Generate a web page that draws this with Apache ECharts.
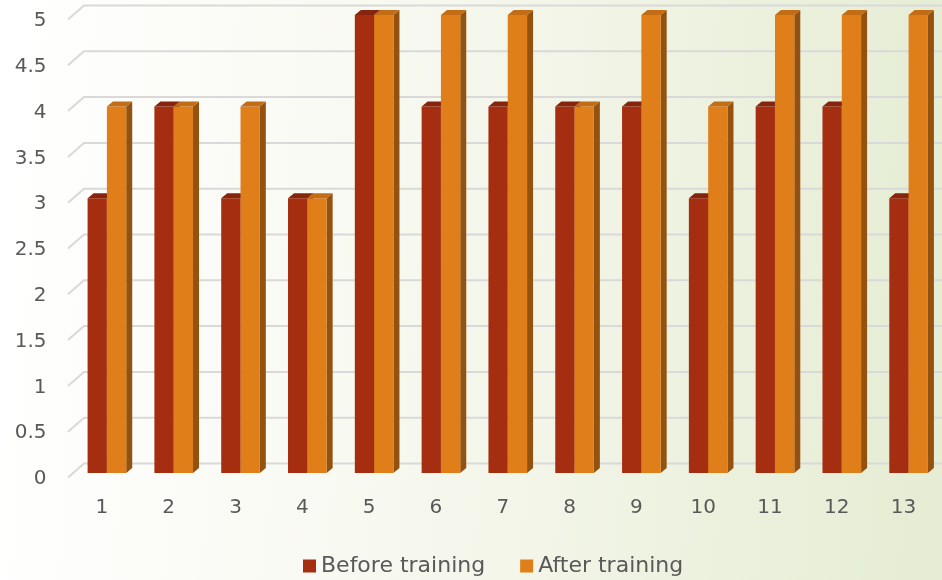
<!DOCTYPE html>
<html>
<head>
<meta charset="utf-8">
<script src="https://cdn.jsdelivr.net/npm/echarts@6/dist/echarts.min.js"></script>
<style>
  html, body { margin: 0; padding: 0; }
  #chart { width: 942px; height: 580px; }
</style>
</head>
<body>
<div id="chart"></div>
<script>
var categories = ['1', '2', '3', '4', '5', '6', '7', '8', '9', '10', '11', '12', '13'];
var beforeTraining = [3, 4, 3, 3, 5, 4, 4, 4, 4, 3, 4, 4, 3];
var afterTraining = [4, 4, 4, 3, 5, 5, 5, 4, 5, 4, 5, 5, 5];
var yTicks = [0, 0.5, 1, 1.5, 2, 2.5, 3, 3.5, 4, 4.5, 5];

var myChart = echarts.init(document.getElementById('chart'));

// fake 3d box: front face, top cap, right side
function boxItem(side, colors) {
  return function (params, api) {
    var idx = api.value(0);
    var val = api.value(1);
    var top = api.coord([idx, val]);
    var base = api.coord([idx, 0]);
    var band = api.size([1, 0])[0];
    var w = band * 0.289;
    var dx = 6, dy = 5;
    var x0 = side === 0 ? top[0] - w : top[0];
    var x1 = x0 + w;
    return {
      type: 'group',
      children: [
        { type: 'polygon', shape: { points: [[x1, top[1]], [x1 + dx, top[1] - dy], [x1 + dx, base[1] - dy], [x1, base[1]]] }, style: { fill: colors.side } },
        { type: 'rect', shape: { x: x0, y: top[1], width: w, height: base[1] - top[1] }, style: { fill: colors.front } },
        { type: 'polygon', shape: { points: [[x0, top[1]], [x0 + dx, top[1] - dy], [x1 + dx, top[1] - dy], [x1, top[1]]] }, style: { fill: colors.top } }
      ]
    };
  };
}

function gridItem(params, api) {
  var y = api.coord([0, api.value(0)])[1];
  var left = params.coordSys.x;
  return {
    type: 'polyline',
    shape: { points: [[left - 5.5, y + 4.5], [left + 10.5, y - 9.5], [942, y - 9.5]] },
    style: { stroke: '#d9d9d9', lineWidth: 2, fill: null }
  };
}

var option = {
  backgroundColor: {
    type: 'linear', x: 0, y: 0, x2: 1, y2: 0.1,
    colorStops: [
      { offset: 0, color: '#ffffff' },
      { offset: 0.4, color: '#f8f9f1' },
      { offset: 1, color: '#e6edd4' }
    ]
  },
  animation: false,
  textStyle: { fontFamily: 'DejaVu Sans' },
  legend: {
    left: 298,
    top: 550,
    itemWidth: 13,
    itemHeight: 13,
    itemGap: 35,
    icon: 'rect',
    data: ['Before training', 'After training'],
    textStyle: { fontSize: 22, color: '#595959', fontFamily: 'DejaVu Sans' }
  },
  grid: { left: 73.5, width: 869, top: 15, bottom: 107 },
  xAxis: {
    type: 'category',
    data: categories,
    axisLine: { show: false },
    axisTick: { show: false },
    axisLabel: { fontSize: 20, color: '#595959', margin: 25, padding: [0, 10, 0, 0] }
  },
  yAxis: {
    type: 'value',
    min: 0,
    max: 5,
    interval: 0.5,
    axisLine: { show: false },
    axisTick: { show: false },
    splitLine: { show: false },
    axisLabel: { fontSize: 20, color: '#595959', margin: 27, verticalAlign: 'top', lineHeight: 12 }
  },
  series: [
    {
      type: 'custom',
      silent: true,
      renderItem: gridItem,
      data: yTicks.map(function (v) { return [v]; }),
      encode: { y: 0 },
      z: 1
    },
    {
      name: 'Before training',
      type: 'custom',
      itemStyle: { color: '#a52d10' },
      renderItem: boxItem(0, { front: '#a52d10', top: '#86240d', side: '#7a2410' }),
      data: beforeTraining.map(function (v, i) { return [i, v]; }),
      encode: { x: 0, y: 1 },
      z: 2
    },
    {
      name: 'After training',
      type: 'custom',
      itemStyle: { color: '#e07e1a' },
      renderItem: boxItem(1, { front: '#e07e1a', top: '#c26c16', side: '#93520f' }),
      data: afterTraining.map(function (v, i) { return [i, v]; }),
      encode: { x: 0, y: 1 },
      z: 3
    }
  ]
};
myChart.setOption(option);
</script>
</body>
</html>
